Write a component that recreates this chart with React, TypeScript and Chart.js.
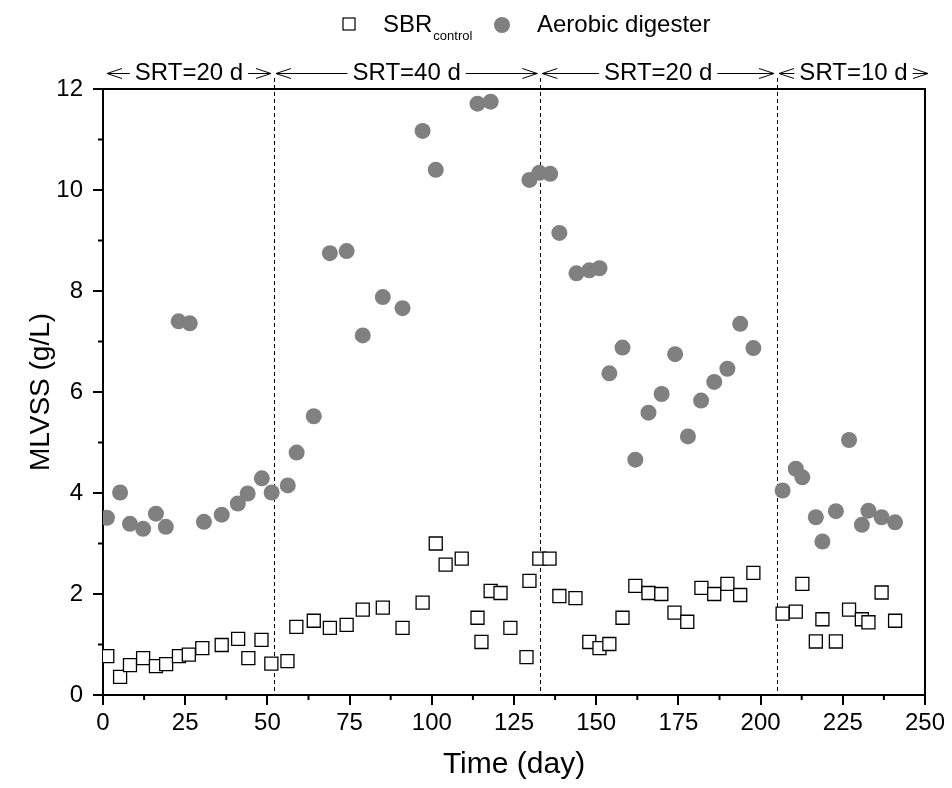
import React, { useEffect, useRef } from "react";
import { Chart, registerables } from "chart.js";

Chart.register(...registerables);

// SBR control (open squares)
const sbrDays = [1.3, 5.2, 8.2, 12.2, 16.1, 19.2, 23.1, 26.1, 30.2, 36.1, 41.1, 44.2, 48.2, 51.2, 56.1, 58.8, 64.1, 69, 74.1, 79, 85.1, 91.1, 97.2, 101.2, 104.2, 109.1, 113.9, 115.1, 117.9, 120.9, 123.9, 128.8, 129.7, 132.7, 135.8, 138.8, 143.7, 147.9, 151, 154, 158, 161.9, 165.9, 169.8, 173.8, 177.7, 182, 185.9, 189.9, 193.8, 197.8, 206.7, 210.7, 212.7, 216.8, 218.8, 222.9, 226.9, 230.8, 232.8, 236.8, 240.9];
const sbrMlvss = [0.77, 0.36, 0.59, 0.73, 0.57, 0.61, 0.77, 0.8, 0.93, 0.99, 1.11, 0.73, 1.09, 0.62, 0.67, 1.35, 1.47, 1.33, 1.39, 1.69, 1.73, 1.33, 1.83, 3.0, 2.58, 2.7, 1.53, 1.05, 2.06, 2.02, 1.33, 0.75, 2.26, 2.7, 2.7, 1.96, 1.92, 1.05, 0.93, 1.01, 1.53, 2.16, 2.02, 2.0, 1.63, 1.45, 2.12, 2.0, 2.2, 1.98, 2.42, 1.61, 1.65, 2.2, 1.06, 1.5, 1.06, 1.69, 1.5, 1.44, 2.03, 1.47];

// Aerobic digester (filled circles)
const aeroDays = [1.2, 5.2, 8.2, 12.2, 16.1, 19.1, 23, 26.4, 30.7, 36.1, 41, 44, 48.3, 51.3, 56.2, 58.9, 64.1, 69, 74.1, 79, 85.1, 91.1, 97.2, 101.2, 113.9, 117.9, 129.7, 132.7, 136, 138.8, 144, 147.9, 151, 154, 158, 161.9, 165.9, 169.9, 174, 177.9, 181.9, 185.9, 189.9, 193.8, 197.8, 206.7, 210.7, 212.7, 216.8, 218.8, 222.9, 226.9, 230.8, 232.8, 236.8, 240.9];
const aeroMlvss = [3.51, 4.01, 3.39, 3.29, 3.59, 3.33, 7.4, 7.36, 3.43, 3.57, 3.79, 3.99, 4.29, 4.01, 4.15, 4.8, 5.52, 8.75, 8.79, 7.12, 7.88, 7.66, 11.17, 10.4, 11.71, 11.75, 10.2, 10.34, 10.32, 9.15, 8.35, 8.41, 8.45, 6.37, 6.88, 4.66, 5.59, 5.96, 6.75, 5.12, 5.83, 6.2, 6.46, 7.35, 6.87, 4.05, 4.48, 4.31, 3.52, 3.04, 3.64, 5.05, 3.37, 3.65, 3.52, 3.42];

// SRT phases (day boundaries) and labels
const phaseBounds = [0, 52, 133, 205, 250];
const phaseLabels = ["SRT=20 d", "SRT=40 d", "SRT=20 d", "SRT=10 d"];
const dividerDays = [52, 133, 205];

const FONT = "'Liberation Sans', Arial, Helvetica, sans-serif";

const overlayPlugin = {
  id: "overlay",
  beforeDatasetsDraw(chart: any) {
    const ctx = chart.ctx;
    const xs = chart.scales.x;
    const { bottom } = chart.chartArea;
    ctx.save();
    ctx.strokeStyle = "#000";
    ctx.lineWidth = 1;
    ctx.setLineDash([4, 3]);
    dividerDays.forEach((d) => {
      const px = Math.round(xs.getPixelForValue(d)) + 0.5;
      ctx.beginPath();
      ctx.moveTo(px, 70);
      ctx.lineTo(px, bottom);
      ctx.stroke();
    });
    ctx.restore();
  },
  afterDraw(chart: any) {
    const ctx = chart.ctx;
    const xs = chart.scales.x;
    const ys = chart.scales.y;
    const { left, right, top, bottom } = chart.chartArea;
    ctx.save();
    // frame top & right
    ctx.strokeStyle = "#000";
    ctx.lineWidth = 2;
    ctx.beginPath();
    ctx.moveTo(left - 1, top);
    ctx.lineTo(right, top);
    ctx.lineTo(right, bottom + 1);
    ctx.stroke();
    // minor ticks
    for (let v = 12.5; v < 250; v += 25) {
      const px = xs.getPixelForValue(v);
      ctx.beginPath();
      ctx.moveTo(px, bottom);
      ctx.lineTo(px, bottom + 5);
      ctx.stroke();
    }
    for (let v = 1; v < 12; v += 2) {
      const py = ys.getPixelForValue(v);
      ctx.beginPath();
      ctx.moveTo(left, py);
      ctx.lineTo(left - 5, py);
      ctx.stroke();
    }
    // phase annotations
    ctx.lineWidth = 1;
    ctx.font = `24px ${FONT}`;
    ctx.fillStyle = "#000";
    ctx.textAlign = "center";
    ctx.textBaseline = "alphabetic";
    const lineY = 65.5;
    for (let i = 0; i < phaseLabels.length; i++) {
      const x0 = xs.getPixelForValue(phaseBounds[i]) + (i === 0 ? 4 : 2);
      const x1 = xs.getPixelForValue(phaseBounds[i + 1]) + (i === phaseLabels.length - 1 ? 3 : -3);
      const cx = (x0 + x1) / 2;
      const tw = ctx.measureText(phaseLabels[i]).width;
      ctx.fillText(phaseLabels[i], cx, 72);
      ctx.beginPath();
      ctx.moveTo(x0, lineY);
      ctx.lineTo(cx - tw / 2 - 5, lineY);
      ctx.moveTo(cx + tw / 2 + 5, lineY);
      ctx.lineTo(x1, lineY);
      // arrowheads
      ctx.moveTo(x0 + 15, lineY - 5);
      ctx.lineTo(x0, lineY);
      ctx.lineTo(x0 + 15, lineY + 5);
      ctx.moveTo(x1 - 15, lineY - 5);
      ctx.lineTo(x1, lineY);
      ctx.lineTo(x1 - 15, lineY + 5);
      ctx.stroke();
    }
    // legend
    ctx.textAlign = "left";
    ctx.lineWidth = 1.2;
    ctx.strokeStyle = "#000";
    ctx.fillStyle = "#fff";
    ctx.fillRect(335, 10, 12, 12);
    ctx.strokeRect(335, 10, 12, 12);
    ctx.fillStyle = "#000";
    ctx.font = `24px ${FONT}`;
    ctx.fillText("SBR", 375, 24);
    const sbrW = ctx.measureText("SBR").width;
    ctx.font = `13px ${FONT}`;
    ctx.fillText("control", 375 + sbrW + 1, 32);
    ctx.fillStyle = "#808080";
    ctx.beginPath();
    ctx.arc(494, 17, 8, 0, Math.PI * 2);
    ctx.fill();
    ctx.fillStyle = "#000";
    ctx.font = `24px ${FONT}`;
    ctx.fillText("Aerobic digester", 529, 24);
    ctx.restore();
  },
};

export default function App() {
  const ref = useRef<HTMLCanvasElement | null>(null);
  useEffect(() => {
    if (!ref.current) return;
    const chart = new Chart(ref.current, {
      type: "scatter",
      data: {
        datasets: [
          {
            label: "Aerobic digester",
            data: aeroDays.map((d, i) => ({ x: d, y: aeroMlvss[i] })),
            pointStyle: "circle",
            pointRadius: 8,
            pointBackgroundColor: "#808080",
            pointBorderColor: "#808080",
            pointBorderWidth: 0,
          },
          {
            label: "SBR control",
            data: sbrDays.map((d, i) => ({ x: d, y: sbrMlvss[i] })),
            pointStyle: "rect",
            pointRadius: 9.2,
            pointBackgroundColor: "#ffffff",
            pointBorderColor: "#000000",
            pointBorderWidth: 1.3,
          },
        ],
      },
      options: {
        animation: false,
        responsive: true,
        maintainAspectRatio: false,
        layout: { padding: { top: 81, right: 19, left: 0, bottom: 0 } },
        plugins: { legend: { display: false }, tooltip: { enabled: false } },
        scales: {
          x: {
            type: "linear",
            min: 0,
            max: 250,
            afterFit: (s: any) => {
              s.height = 85;
              s.paddingLeft = 0;
              s.paddingRight = 0;
            },
            ticks: {
              stepSize: 25,
              autoSkip: false,
              maxRotation: 0,
              padding: 4,
              color: "#000",
              font: { family: FONT, size: 24 },
            },
            grid: {
              display: true,
              drawOnChartArea: false,
              drawTicks: true,
              tickLength: 10,
              color: "#000",
              lineWidth: 2,
            },
            border: { display: true, color: "#000", width: 2 },
            title: {
              display: true,
              text: "Time (day)",
              color: "#000",
              font: { family: FONT, size: 30, lineHeight: 1 },
              padding: { top: 0, bottom: 0 },
            },
          },
          y: {
            type: "linear",
            min: 0,
            max: 12,
            afterFit: (s: any) => {
              s.width = 95;
              s.paddingTop = 0;
              s.paddingBottom = 0;
            },
            ticks: {
              stepSize: 2,
              autoSkip: false,
              padding: 10,
              color: "#000",
              font: { family: FONT, size: 24 },
            },
            grid: {
              display: true,
              drawOnChartArea: false,
              drawTicks: true,
              tickLength: 10,
              color: "#000",
              lineWidth: 2,
            },
            border: { display: true, color: "#000", width: 2 },
            title: {
              display: true,
              text: "MLVSS (g/L)",
              color: "#000",
              font: { family: FONT, size: 28, lineHeight: 1 },
              padding: { top: 19, bottom: 0 },
            },
          },
        },
      },
      plugins: [overlayPlugin],
    });
    return () => chart.destroy();
  }, []);
  return (
    <div style={{ position: "relative", width: "936px", height: "772px" }}>
      <canvas ref={ref} />
    </div>
  );
}
